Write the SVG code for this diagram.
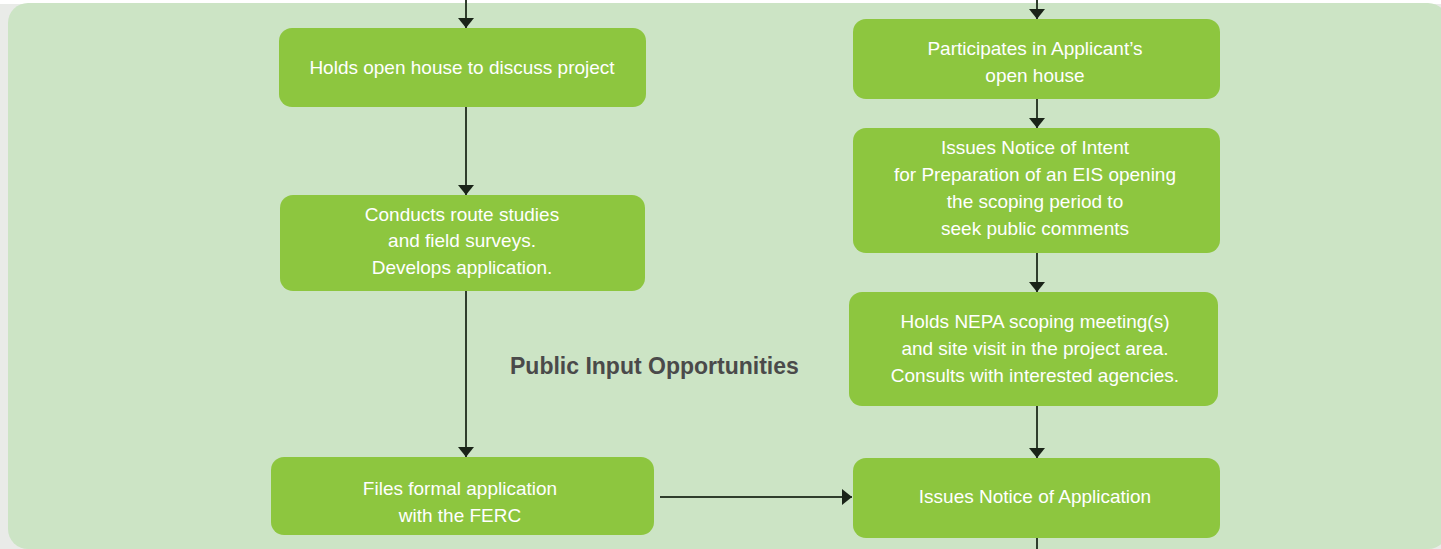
<svg xmlns="http://www.w3.org/2000/svg" width="1441" height="549" viewBox="0 0 1441 549">
<defs>
<style>
.box{fill:#8dc63f}
.t{font-family:"Liberation Sans Narrow","Liberation Sans",Arial,sans-serif;font-size:19px;fill:#ffffff;text-anchor:middle}
.lbl{font-family:"Liberation Sans Narrow","Liberation Sans",Arial,sans-serif;font-size:23px;font-weight:bold;fill:#4a4a4a}
.c{stroke:#2f3d2c;stroke-width:2;fill:none}
</style>
<marker id="ah" viewBox="0 0 10 16" refX="10" refY="8" markerWidth="10" markerHeight="16" orient="auto" markerUnits="userSpaceOnUse">
<path d="M0,0 L10,8 L0,16 Z" fill="#1a2418"/>
</marker>
</defs>
<rect x="0" y="0" width="1441" height="549" fill="#e9ebe8"/>
<rect x="0" y="0" width="1441" height="4" fill="#ffffff"/>
<rect x="8" y="3" width="1440" height="546" rx="20" fill="#cce4c5"/>

<g id="connectors">
<line class="c" x1="466" y1="0" x2="466" y2="28" marker-end="url(#ah)"/>
<line class="c" x1="466" y1="107" x2="466" y2="195" marker-end="url(#ah)"/>
<line class="c" x1="466" y1="291" x2="466" y2="457" marker-end="url(#ah)"/>
<line class="c" x1="1037" y1="0" x2="1037" y2="19" marker-end="url(#ah)"/>
<line class="c" x1="1037" y1="99" x2="1037" y2="128" marker-end="url(#ah)"/>
<line class="c" x1="1037" y1="253" x2="1037" y2="292" marker-end="url(#ah)"/>
<line class="c" x1="1037" y1="406" x2="1037" y2="458" marker-end="url(#ah)"/>
<line class="c" x1="1037" y1="538" x2="1037" y2="549"/>
<line class="c" x1="660" y1="497" x2="852" y2="497" marker-end="url(#ah)"/>
</g>

<g id="n1"><rect class="box" x="279" y="28" width="367" height="79" rx="13"/>
<text class="t" x="462" y="74">Holds open house to discuss project</text></g>

<g id="n2"><rect class="box" x="280" y="195" width="365" height="96" rx="13"/>
<text class="t" x="462" y="221">Conducts route studies</text>
<text class="t" x="462" y="247">and field surveys.</text>
<text class="t" x="462" y="274">Develops application.</text></g>

<g id="n3"><rect class="box" x="271" y="457" width="383" height="78" rx="13"/>
<text class="t" x="460" y="495">Files formal application</text>
<text class="t" x="460" y="522">with the FERC</text></g>

<g id="n4"><rect class="box" x="853" y="19" width="367" height="80" rx="13"/>
<text class="t" x="1035" y="55">Participates in Applicant’s</text>
<text class="t" x="1035" y="82">open house</text></g>

<g id="n5"><rect class="box" x="853" y="128" width="367" height="125" rx="13"/>
<text class="t" x="1035" y="154">Issues Notice of Intent</text>
<text class="t" x="1035" y="181">for Preparation of an EIS opening</text>
<text class="t" x="1035" y="208">the scoping period to</text>
<text class="t" x="1035" y="235">seek public comments</text></g>

<g id="n6"><rect class="box" x="849" y="292" width="369" height="114" rx="13"/>
<text class="t" x="1035" y="328">Holds NEPA scoping meeting(s)</text>
<text class="t" x="1035" y="355">and site visit in the project area.</text>
<text class="t" x="1035" y="382">Consults with interested agencies.</text></g>

<g id="n7"><rect class="box" x="853" y="458" width="367" height="80" rx="13"/>
<text class="t" x="1035" y="503">Issues Notice of Application</text></g>

<g id="label"><text class="lbl" x="510" y="374">Public Input Opportunities</text></g>
</svg>
